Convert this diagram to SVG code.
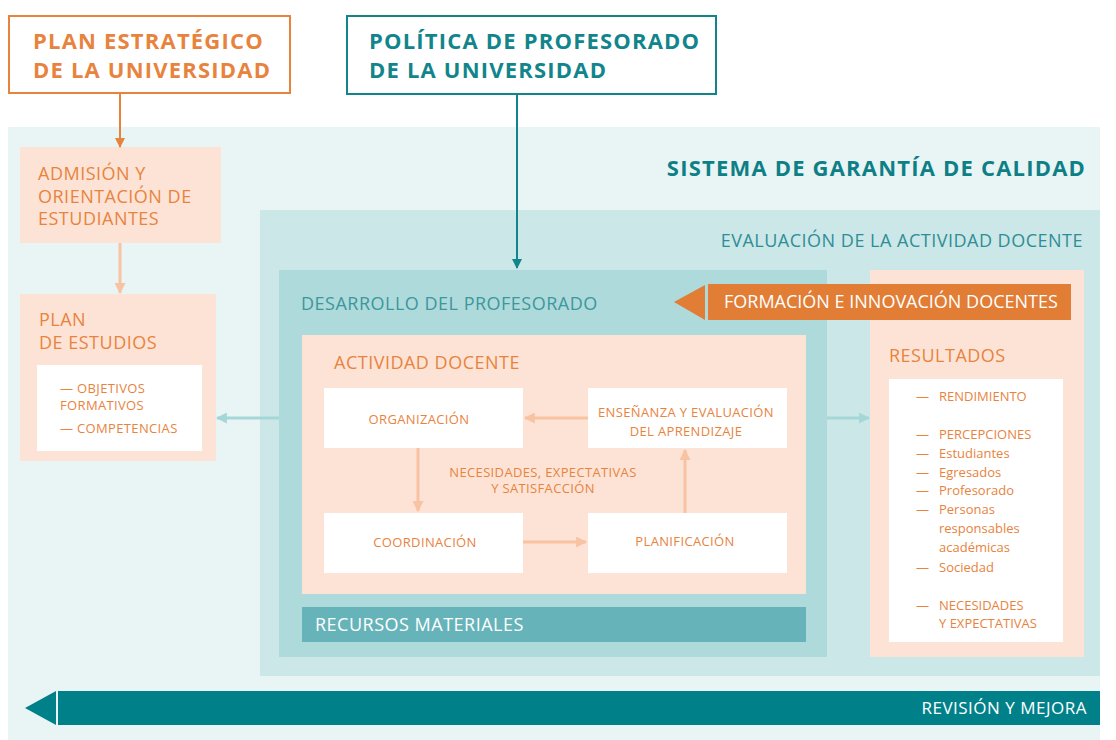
<svg xmlns="http://www.w3.org/2000/svg" width="1116" height="740" viewBox="0 0 1116 740">
<defs>
<style>
text{font-family:"Open Sans","Noto Sans","Liberation Sans",sans-serif}
.top{font-size:22px;font-weight:bold;letter-spacing:1.2px}
.or{fill:#E8833E}
.tl{fill:#12858C}
.h{font-size:18px;letter-spacing:0.5px}
.s{font-size:13px;letter-spacing:0.35px}
.m{text-anchor:middle}
.e{text-anchor:end}
.w{fill:#FFFFFF}
.peach{fill:#FDE3D5}
.white{fill:#FFFFFF}
</style>
<marker id="aOr" viewBox="0 0 10 10" refX="9" refY="5" markerWidth="10" markerHeight="10" markerUnits="userSpaceOnUse" orient="auto"><path d="M0,0 L10,5 L0,10 Z" fill="#E8833E"/></marker>
<marker id="aTl" viewBox="0 0 10 10" refX="9" refY="5" markerWidth="10" markerHeight="10" markerUnits="userSpaceOnUse" orient="auto"><path d="M0,0 L10,5 L0,10 Z" fill="#12858C"/></marker>
<marker id="aLo" viewBox="0 0 10 10" refX="9" refY="5" markerWidth="11" markerHeight="11" markerUnits="userSpaceOnUse" orient="auto"><path d="M0,0 L10,5 L0,10 Z" fill="#F8C3A2"/></marker>
<marker id="aLt" viewBox="0 0 10 10" refX="9" refY="5" markerWidth="11" markerHeight="11" markerUnits="userSpaceOnUse" orient="auto"><path d="M0,0 L10,5 L0,10 Z" fill="#A6D7D8"/></marker>
</defs>
<rect width="1116" height="740" fill="#FFFFFF"/>

<g id="sistema">
<rect x="8" y="127" width="1092" height="613" fill="#E9F5F5"/>
<text x="1086" y="176" class="top e" style="fill:#0E7F86">SISTEMA DE GARANTÍA DE CALIDAD</text>
</g>

<g id="plan-estrategico">
<rect x="9" y="16" width="281" height="77" fill="#FFFFFF" stroke="#E8833E" stroke-width="2"/>
<text x="33" y="49" class="top or">PLAN ESTRATÉGICO</text>
<text x="33" y="78" class="top or">DE LA UNIVERSIDAD</text>
</g>

<g id="politica">
<rect x="347" y="16" width="369" height="78" fill="#FFFFFF" stroke="#12858C" stroke-width="2"/>
<text x="369" y="49" class="top tl">POLÍTICA DE PROFESORADO</text>
<text x="369" y="78" class="top tl">DE LA UNIVERSIDAD</text>
</g>

<g id="admision">
<rect x="20" y="147" width="201" height="96" class="peach"/>
<text x="38" y="180" class="h or">ADMISIÓN Y</text>
<text x="38" y="203" class="h or">ORIENTACIÓN DE</text>
<text x="38" y="225" class="h or">ESTUDIANTES</text>
</g>

<g id="plan-estudios">
<rect x="20" y="294" width="196" height="167" class="peach"/>
<text x="39" y="326" class="h or">PLAN</text>
<text x="39" y="349" class="h or">DE ESTUDIOS</text>
<rect x="37" y="365" width="165" height="86" class="white"/>
<text x="60" y="393" class="s or">— OBJETIVOS</text>
<text x="60" y="410" class="s or">FORMATIVOS</text>
<text x="60" y="433" class="s or">— COMPETENCIAS</text>
</g>

<g id="evaluacion">
<rect x="260" y="210" width="840" height="466" fill="#CCE7E7"/>
<text x="1083" y="247" class="h e" style="fill:#2E8E96">EVALUACIÓN DE LA ACTIVIDAD DOCENTE</text>
</g>

<g id="desarrollo">
<rect x="279" y="270" width="548" height="387" fill="#AEDADB"/>
<text x="301" y="310" class="h" style="fill:#3D979D">DESARROLLO DEL PROFESORADO</text>
</g>

<g id="actividad">
<rect x="302" y="335" width="504" height="259" class="peach"/>
<text x="334" y="369" class="h or">ACTIVIDAD DOCENTE</text>
<text x="543" y="477" class="s or m">NECESIDADES, EXPECTATIVAS</text>
<text x="543" y="493" class="s or m">Y SATISFACCIÓN</text>
</g>

<g id="organizacion">
<rect x="324" y="388" width="199" height="60" class="white"/>
<text x="419" y="424" class="s or m">ORGANIZACIÓN</text>
</g>
<g id="ensenanza">
<rect x="588" y="388" width="199" height="60" class="white"/>
<text x="686" y="417" class="s or m">ENSEÑANZA Y EVALUACIÓN</text>
<text x="686" y="436" class="s or m">DEL APRENDIZAJE</text>
</g>
<g id="coordinacion">
<rect x="324" y="513" width="199" height="60" class="white"/>
<text x="425" y="547" class="s or m">COORDINACIÓN</text>
</g>
<g id="planificacion">
<rect x="588" y="513" width="199" height="60" class="white"/>
<text x="685" y="546" class="s or m">PLANIFICACIÓN</text>
</g>

<g id="recursos">
<rect x="302" y="607" width="504" height="35" fill="#66B4B9"/>
<text x="315" y="631" class="h w">RECURSOS MATERIALES</text>
</g>

<g id="resultados">
<rect x="870" y="270" width="214" height="387" class="peach"/>
<text x="889" y="362" class="h or">RESULTADOS</text>
<rect x="889" y="379" width="174" height="263" class="white"/>
<g class="s or" style="letter-spacing:0">
<text x="916" y="401">—</text><text x="939" y="401">RENDIMIENTO</text>
<text x="916" y="439">—</text><text x="939" y="439">PERCEPCIONES</text>
<text x="916" y="458">—</text><text x="939" y="458">Estudiantes</text>
<text x="916" y="477">—</text><text x="939" y="477">Egresados</text>
<text x="916" y="495">—</text><text x="939" y="495">Profesorado</text>
<text x="916" y="514">—</text><text x="939" y="514">Personas</text>
<text x="939" y="533">responsables</text>
<text x="939" y="552">académicas</text>
<text x="916" y="572">—</text><text x="939" y="572">Sociedad</text>
<text x="916" y="610">—</text><text x="939" y="610">NECESIDADES</text>
<text x="939" y="628">Y EXPECTATIVAS</text>
</g>
</g>

<g id="formacion">
<path d="M674,302 L705,285 L705,320 Z" fill="#E27D35"/>
<rect x="708" y="284" width="363" height="36" fill="#E27D35"/>
<text x="724" y="308" class="h w" style="letter-spacing:0">FORMACIÓN E INNOVACIÓN DOCENTES</text>
</g>

<g id="revision">
<path d="M25,708 L56,691 L56,725 Z" fill="#00818A"/>
<rect x="58" y="691" width="1042" height="34" fill="#00818A"/>
<text x="1087" y="714" class="e w" style="font-size:17px;letter-spacing:0.5px">REVISIÓN Y MEJORA</text>
</g>

<g id="connectors" fill="none">
<line x1="120" y1="93" x2="120" y2="147" stroke="#E8833E" stroke-width="2" marker-end="url(#aOr)"/>
<line x1="517" y1="94" x2="517" y2="268" stroke="#12858C" stroke-width="2" marker-end="url(#aTl)"/>
<line x1="120" y1="243" x2="120" y2="293" stroke="#F8C3A2" stroke-width="3" marker-end="url(#aLo)"/>
<line x1="279" y1="418" x2="217" y2="418" stroke="#A6D7D8" stroke-width="3" marker-end="url(#aLt)"/>
<line x1="827" y1="418" x2="869" y2="418" stroke="#A6D7D8" stroke-width="3" marker-end="url(#aLt)"/>
<line x1="588" y1="418" x2="525" y2="418" stroke="#F8C3A2" stroke-width="3" marker-end="url(#aLo)"/>
<line x1="418" y1="448" x2="418" y2="511" stroke="#F8C3A2" stroke-width="3" marker-end="url(#aLo)"/>
<line x1="523" y1="542" x2="586" y2="542" stroke="#F8C3A2" stroke-width="3" marker-end="url(#aLo)"/>
<line x1="685" y1="513" x2="685" y2="450" stroke="#F8C3A2" stroke-width="3" marker-end="url(#aLo)"/>
</g>
</svg>
